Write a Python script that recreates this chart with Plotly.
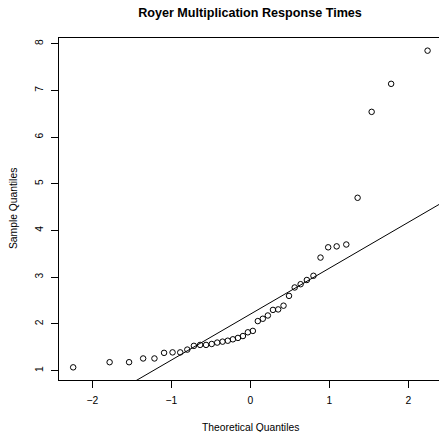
import numpy as np
import plotly.graph_objects as go
from statistics import NormalDist

# Sorted response times (sample quantiles)
response_times = [
    1.07, 1.18, 1.18, 1.26, 1.26, 1.38, 1.39, 1.39, 1.45, 1.53,
    1.55, 1.55, 1.57, 1.60, 1.62, 1.64, 1.67, 1.70, 1.74, 1.82,
    1.85, 2.06, 2.11, 2.18, 2.30, 2.31, 2.39, 2.60, 2.78, 2.85,
    2.94, 3.03, 3.42, 3.64, 3.66, 3.70, 4.70, 6.54, 7.14, 7.85,
]
x_ticks = [-2, -1, 0, 1, 2]
y_ticks = [1, 2, 3, 4, 5, 6, 7, 8]

title_text = "Royer Multiplication Response Times"
x_title = "Theoretical Quantiles"
y_title = "Sample Quantiles"

# Theoretical normal quantiles at plotting positions (i - 0.5) / n
sample = np.sort(np.array(response_times))
n = len(sample)
nd = NormalDist()
theoretical = np.array([nd.inv_cdf((i - 0.5) / n) for i in range(1, n + 1)])

# Reference line through the first and third quartiles
q_s = np.percentile(sample, [25, 75])
q_t = np.array([nd.inv_cdf(0.25), nd.inv_cdf(0.75)])
slope = (q_s[1] - q_s[0]) / (q_t[1] - q_t[0])
intercept = q_s[0] - slope * q_t[0]
line_x = np.array([-3.0, 3.0])
line_y = intercept + slope * line_x

font = "Liberation Sans, Arial, Helvetica, sans-serif"

fig = go.Figure()
fig.add_trace(go.Scatter(
    x=theoretical, y=sample, mode="markers",
    marker=dict(symbol="circle-open", size=5.5, color="black", line=dict(width=1, color="black")),
    showlegend=False, hoverinfo="x+y",
))
fig.add_trace(go.Scatter(
    x=line_x, y=line_y, mode="lines",
    line=dict(color="black", width=1),
    showlegend=False, hoverinfo="skip",
))

pad_x = 0.04 * (theoretical.max() - theoretical.min())
pad_y = 0.04 * (sample.max() - sample.min())

fig.update_layout(
    width=439, height=432,
    margin=dict(l=59, r=0, t=38, b=52),
    paper_bgcolor="white", plot_bgcolor="white",
    font=dict(family=font, size=10, color="black"),
    title=dict(text="<b>" + title_text + "</b>", x=250 / 439, xanchor="center",
               y=1 - 13 / 432, yanchor="middle", yref="container",
               font=dict(size=12.6, family=font, color="black")),
    xaxis=dict(
        range=[theoretical.min() - pad_x, 2.386],
        tickvals=x_ticks, ticktext=[str(v).replace("-", "\u2212") for v in x_ticks],
        ticks="outside", ticklen=7, tickwidth=1, tickcolor="black",
        showline=True, linecolor="black", linewidth=1, mirror=True,
        showgrid=False, zeroline=False, ticklabelstandoff=4,
        tickfont=dict(size=10.3, family=font, color="black"),
    ),
    yaxis=dict(
        range=[sample.min() - pad_y, sample.max() + pad_y],
        tickvals=y_ticks, ticktext=[str(v) for v in y_ticks],
        ticks="outside", ticklen=7, tickwidth=1, tickcolor="black",
        showline=True, linecolor="black", linewidth=1, mirror=False,
        showgrid=False, zeroline=False, tickangle=-90, ticklabelstandoff=4,
        tickfont=dict(size=10.3, family=font, color="black"),
    ),
    annotations=[
        dict(text=x_title, xref="paper", yref="paper", x=(250 - 59) / 380, y=0,
             xanchor="center", yanchor="middle", yshift=-47, showarrow=False,
             font=dict(size=10.3, family=font, color="black")),
        dict(text=y_title, xref="paper", yref="paper", x=0, y=0.5,
             xanchor="center", yanchor="middle", xshift=-46, textangle=-90,
             showarrow=False, font=dict(size=10.3, family=font, color="black")),
    ],
)

fig.write_html("out.html")
